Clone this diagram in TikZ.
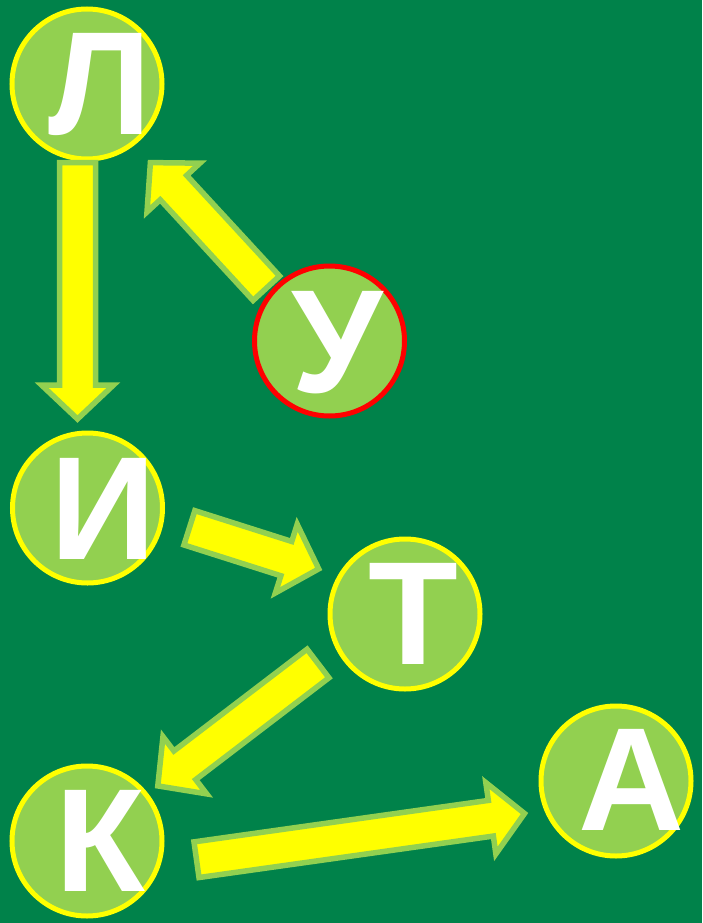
\documentclass[tikz,border=0pt]{standalone}
\usepackage{fontspec}
\setmainfont{Liberation Sans}
\usetikzlibrary{calc}
\definecolor{board}{RGB}{0,130,74}
\definecolor{leaf}{RGB}{146,208,80}
\definecolor{lemon}{RGB}{255,255,0}
\tikzset{ball/.style={circle, draw=lemon, fill=leaf, line width=5pt,
                      minimum size=150pt, inner sep=0pt}}
\tikzset{glyph/.style={text=white, inner sep=0pt,
                       font=\fontsize{147}{147}\selectfont\bfseries}}
\tikzset{fat arrow/.style={draw=leaf, fill=lemon, line width=5.5pt, line join=miter}}
% block arrow from #1 (tail) to #2 (tip)
\newcommand{\fatarrow}[2]{%
  \coordinate (hb) at ($(#2)!34pt!(#1)$);
  \draw[fat arrow] ($(#1)!18pt!90:(#2)$) -- ($(hb)!18pt!90:(#2)$)
    -- ($(hb)!36pt!90:(#2)$) -- (#2) -- ($(hb)!36pt!-90:(#2)$)
    -- ($(hb)!18pt!-90:(#2)$) -- ($(#1)!18pt!-90:(#2)$) -- cycle;}

\begin{document}
\begin{tikzpicture}[x=1pt, y=-1pt]

  % ---- the board
  \fill[board] (0,0) rectangle (702,923);
  \useasboundingbox (0,0) rectangle (702,923);

  % ---- the six letters
  \node[ball]          at ( 87, 84) (L) {};
  \node[ball, draw=red] at (329.5,341) (U) {};
  \node[ball]          at ( 87.5,508) (I) {};
  \node[ball]          at (405,614) (T) {};
  \node[ball]          at ( 87,841) (K) {};
  \node[ball]          at (616,781) (A) {};

  \node[glyph] at ($(L)+(13,1)$)   (L-txt) {Л};
  \node[glyph] at ($(U)+(8,1.5)$)  (U-txt) {У};
  \node[glyph] at ($(I)+(16,0.5)$) (I-txt) {И};
  \node[glyph] at ($(T)+(8.5,0)$)  (T-txt) {Т};
  \node[glyph] at ($(K)+(13,0)$)   (K-txt) {К};
  \node[glyph] at ($(A)+(15.5,-1)$) (A-txt) {А};

  % ---- arrow ends
  \coordinate (U-out) at (266.3,288.2);  \coordinate (L-in) at (150.4,162.6);
  \coordinate (L-out) at ( 77.5,162.5);  \coordinate (I-in) at ( 77.5,419);
  \coordinate (I-out) at (189.4,527.8);  \coordinate (T-in) at (318.7,568.9);
  \coordinate (T-out) at (318,663.5);    \coordinate (K-in) at (157.8,785.9);
  \coordinate (K-out) at (196.5,859.7);  \coordinate (A-in) at (524.5,813.5);

  % ================= the path through the word ================================
  \fatarrow{U-out}{L-in}
  \fatarrow{L-out}{I-in}
  \fatarrow{I-out}{T-in}
  \fatarrow{T-out}{K-in}
  \fatarrow{K-out}{A-in}

\end{tikzpicture}
\end{document}
